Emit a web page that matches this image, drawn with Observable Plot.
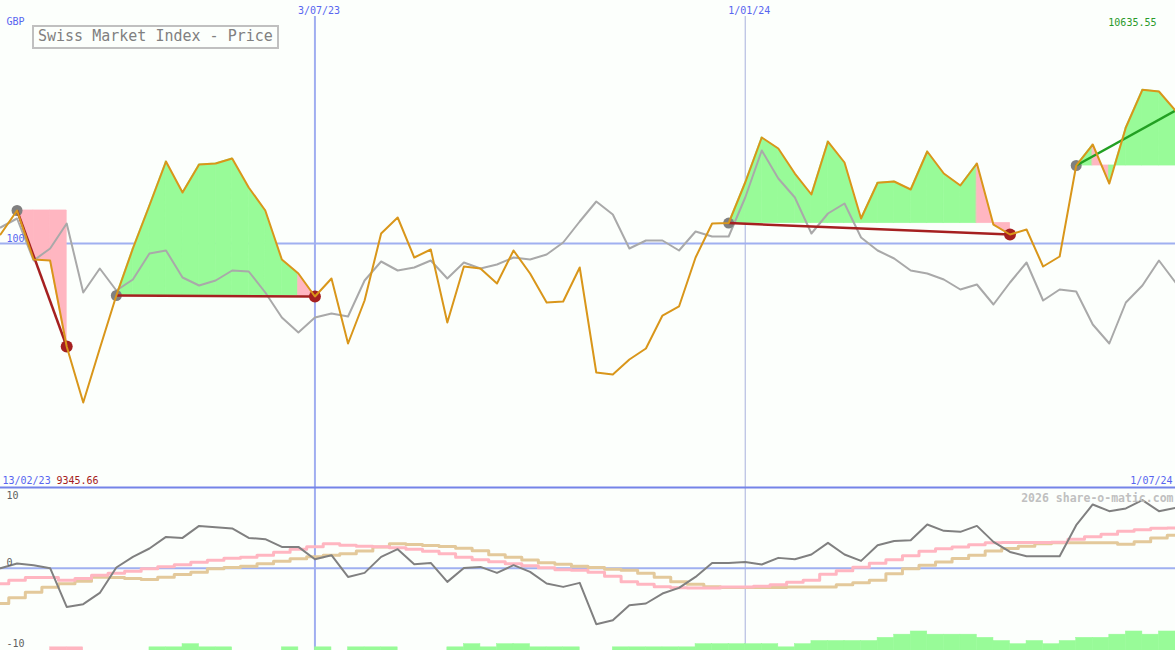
<!DOCTYPE html>
<html><head><meta charset="utf-8">
<script src="https://cdn.jsdelivr.net/npm/d3@7"></script>
<script src="https://cdn.jsdelivr.net/npm/@observablehq/plot@0.6"></script>
<style>
html,body{margin:0;padding:0;background:#fcfffc;}
#chart{position:relative;width:1175px;height:650px;background:#fcfffc;overflow:hidden;font-family:"DejaVu Sans Mono",monospace;}
.title{position:absolute;left:32px;top:25px;width:247px;height:24px;box-sizing:border-box;border:2px solid #c0c0c0;background:#fcfffc;color:#808080;font:15px "DejaVu Sans Mono",monospace;line-height:19px;padding-left:4px;white-space:nowrap;}
</style></head><body><div id="chart"></div>
<script>
// ---------- data ----------
const firstWeek = new Date(Date.UTC(2023, 1, 20));
const lastWeek = new Date(Date.UTC(2024, 6, 1));
const weeks = d3.utcMonday.range(firstWeek, d3.utcDay.offset(lastWeek, 1)); // 72 weekly closes

const price = [10038.7, 10137.7, 9935.5, 9931, 9576.7, 9345.66, 9568.4, 9787.0, 9980.9, 10158.3,
  10339.8, 10211.9, 10327.4, 10331.5, 10352.2, 10232.5, 10137.7, 9935.5, 9877.8, 9783.0,
  9857.2, 9589.0, 9766.4, 10042.8, 10108.8, 9943.8, 9976.8, 9675.7, 9906.7, 9898.4,
  9836.5, 9972.7, 9877.8, 9758.2, 9762.3, 9902.5, 9469.4, 9461.2, 9523.0, 9568.4,
  9704.5, 9741.7, 9943.8, 10084.0, 10086.0, 10253.2, 10438.8, 10393.4, 10290.3, 10203.7,
  10422.3, 10335.7, 10104.7, 10252.0, 10257.3, 10224.3, 10381.1, 10290.3, 10240.8, 10331.5,
  10079.0, 10038.7, 10059.3, 9906.7, 9948.0, 10323.3, 10409.9, 10249.0, 10480.0, 10635.55,
  10628.5, 10550.2];

const relStrength = [104.0, 106.25, 95.75, 98.75, 105.0, 87.75, 93.75, 88.25, 91.0, 97.5,
  98.25, 91.5, 89.5, 90.75, 93.25, 93.0, 87.75, 81.5, 77.75, 81.5,
  82.5, 81.75, 90.75, 95.5, 93.25, 94.0, 95.75, 91.25, 95.25, 93.75,
  94.75, 96.5, 96.0, 97.25, 100.25, 105.5, 110.5, 107.25, 98.75, 100.75,
  100.75, 98.25, 103.0, 101.75, 101.75, 111.5, 123.25, 116.25, 111.5, 102.5,
  107.5, 110.0, 101.5, 98.25, 96.25, 93.25, 92.5, 91.0, 88.5, 89.75,
  84.75, 90.25, 95.25, 85.75, 88.5, 88.0, 79.75, 75.0, 85.25, 89.5,
  95.75, 90.25];

const momentum = [0.0, 0.7, 0.45, 0.0, -5.78, -5.37, -3.69, 0.1, 1.69, 2.94,
  4.67, 4.52, 6.31, 6.12, 5.93, 4.52, 4.33, 3.18, 3.18, 1.34,
  1.94, -1.30, -0.70, 1.69, 2.84, 0.60, 0.79, -2.04, 0.04, 0.19,
  -0.70, 0.45, -0.55, -2.28, -2.79, -2.19, -8.36, -7.76, -5.52, -5.27,
  -3.78, -2.94, -1.30, 0.79, 0.79, 0.94, 0.55, 1.54, 1.34, 2.04,
  3.78, 2.04, 1.09, 3.43, 4.07, 4.18, 6.52, 5.57, 5.42, 6.31,
  3.93, 2.43, 1.79, 1.79, 1.79, 6.42, 9.51, 8.51, 8.91, 10.15,
  8.51, 9.0];

const signalFast = [-2.31, -1.79, -1.39, -1.39, -1.79, -1.54, -1.04, -0.75, -0.45, -0.07,
  0.22, 0.52, 0.90, 1.19, 1.49, 1.64, 1.94, 2.39, 2.84, 3.21,
  3.66, 3.43, 3.28, 3.21, 3.06, 2.84, 2.54, 2.16, 1.64, 1.27,
  0.97, 0.67, 0.37, 0.07, -0.22, -0.30, -0.60, -1.19, -2.01, -2.39,
  -2.76, -2.91, -2.94, -2.94, -2.79, -2.79, -2.69, -2.46, -2.09, -1.79,
  -0.90, -0.37, 0.15, 0.75, 1.27, 1.87, 2.54, 2.91, 3.18, 3.51,
  3.81, 3.84, 3.84, 3.84, 3.88, 4.33, 4.70, 5.07, 5.52, 5.75,
  5.97, 6.01];

const signalSlow = [-5.27, -4.40, -3.58, -2.84, -2.31, -1.94, -1.34, -1.39, -1.54, -1.69,
  -1.34, -0.94, -0.60, -0.07, 0.10, 0.30, 0.67, 1.04, 1.42, 1.69,
  1.94, 2.16, 2.58, 3.18, 3.66, 3.54, 3.39, 3.24, 2.99, 2.61,
  2.01, 1.64, 1.24, 0.82, 0.60, 0.30, 0.10, -0.15, -0.30, -0.75,
  -1.34, -2.01, -2.39, -2.76, -2.88, -2.88, -2.88, -2.88, -2.79, -2.79,
  -2.79, -2.46, -2.16, -1.79, -0.82, -0.07, 0.45, 0.94, 1.45, 1.94,
  2.58, 2.94, 3.28, 3.66, 3.78, 3.78, 3.78, 3.78, 3.58, 3.93,
  4.52, 4.93];

// weekly trend bars (interval i -> i+1); negative = down (pink)
const trendBars = [0, 0, 0, -1, -1, 0, 0, 0, 0, 1,
  1, 2, 1, 1, 0, 0, 0, 1, 0, 1,
  0, 1, 1, 1, 0, 0, 0, 1, 2, 1,
  2, 2, 1, 1, 1, 0, 0, 1, 1, 1,
  1, 1, 2, 2, 2, 2, 2, 1, 2, 3,
  3, 3, 3, 4, 5, 6, 5, 5, 5, 4,
  3, 2, 3, 2, 3, 4, 4, 5, 6, 5, 6];

const signalStart = [1, 7, 44, 65];
const signalEnd = [4, 19, 61, 71];
const signalOpen = [false, false, false, true];

const markerDates = [new Date(Date.UTC(2023, 6, 3)), new Date(Date.UTC(2024, 0, 1))];
const markerLabels = ["3/07/23", "1/01/24"];
const startLabel = "13/02/23", endLabel = "1/07/24";
const maxLabel = "10635.55", minLabel = "9345.66";
const currencyLabel = "GBP", baseLabel = "100";
const oscTicks = [10, 0, -10];
const titleText = "Swiss Market Index - Price";
const watermark = "2026 share-o-matic.com";

// ---------- derived tables ----------
const rows = weeks.map((date, i) => ({date, price: price[i], rel: relStrength[i], mom: momentum[i], fast: signalFast[i], slow: signalSlow[i]}));

const GREEN = "#98fb98", PINK = "#ffb6c1";
const fillRows = [];
signalStart.forEach((s, k) => {
  const e = signalEnd[k], base = price[s];
  for (let i = s; i < e; i++) {
    const color = price[i + 1] >= base ? GREEN : PINK;
    fillRows.push({key: k + "-" + i, date: weeks[i], base, price: price[i], color});
    fillRows.push({key: k + "-" + i, date: weeks[i + 1], base, price: price[i + 1], color});
  }
});
const trends = signalStart.map((s, k) => {
  const e = signalEnd[k];
  return {x1: weeks[s], y1: price[s], x2: weeks[e], y2: price[e], stroke: price[e] >= price[s] ? "#22a022" : "#a52020"};
});
const startDots = signalStart.map(s => ({date: weeks[s], price: price[s]}));
const endDots = signalEnd.filter((e, k) => !signalOpen[k]).map(e => ({date: weeks[e], price: price[e]}));
const barRows = trendBars.map((v, i) => ({x1: weeks[i], x2: weeks[i + 1], h: Math.abs(v), color: v < 0 ? PINK : GREEN})).filter(d => d.h > 0);

// ---------- layout ----------
const chart = document.getElementById("chart");
const BLUE = "#5865f0";
const font = {background: "transparent", fontFamily: '"DejaVu Sans Mono", monospace', fontSize: "10px"};
const priceY = {domain: [8995, 11004]};
const relY = {domain: [39, 160.75]};
const oscY = {domain: [-12.28, 12.04]};
const barY = {domain: [0, 51.42]};

function layer(marks, {height, top = 0, marginTop = 0, y}) {
  const svg = Plot.plot({
    width: 1175, height, marginTop, marginBottom: 0, marginLeft: 0, marginRight: 0,
    x: {type: "utc", domain: [weeks[0], weeks[weeks.length - 1]], axis: null},
    y: Object.assign({axis: null}, y || {}),
    color: {type: "identity"},
    style: font,
    marks
  });
  svg.style.position = "absolute";
  svg.style.left = "0px";
  svg.style.top = top + "px";
  chart.append(svg);
}

// L0: date marker rules across both panels
layer([
  Plot.ruleX([markerDates[0]], {stroke: "#a0aef0", strokeWidth: 2, insetTop: 16}),
  Plot.ruleX([markerDates[1]], {stroke: "#a8b0dc", strokeWidth: 1, insetTop: 16})
], {height: 650});

// L1: relative-strength base line
layer([
  Plot.ruleY([100], {stroke: "#a0b0f0", strokeWidth: 2})
], {height: 487, y: relY});

// L2: signal fills
layer([
  Plot.areaY(fillRows, {x: "date", y1: "base", y2: "price", z: "key", fill: "color", stroke: "color", strokeWidth: 0.8})
], {height: 487, y: priceY});

// L3: relative strength line and base label
layer([
  Plot.line(rows, {x: "date", y: "rel", stroke: "#a9a9a9", strokeWidth: 2}),
  Plot.text([100], {y: d => d, frameAnchor: "left", dx: 6, dy: -2, lineAnchor: "bottom", textAnchor: "start", text: () => baseLabel, fill: BLUE})
], {height: 487, y: relY});

// L4: trend lines, dots, price, labels
layer([
  Plot.dot(startDots, {x: "date", y: "price", r: 5.5, fill: "#808080"}),
  Plot.dot(endDots, {x: "date", y: "price", r: 6, fill: "#a52020"}),
  Plot.link(trends, {x1: "x1", y1: "y1", x2: "x2", y2: "y2", stroke: "stroke", strokeWidth: 2.5}),
  Plot.line(rows, {x: "date", y: "price", stroke: "#d9961a", strokeWidth: 2}),
  Plot.text(markerDates, {x: d => d, text: (d, i) => markerLabels[i], frameAnchor: "top", dx: -17, dy: 13.3, textAnchor: "start", lineAnchor: "bottom", fill: BLUE}),
  Plot.text([currencyLabel], {text: d => d, frameAnchor: "top-left", dx: 6, dy: 24, textAnchor: "start", lineAnchor: "bottom", fill: BLUE}),
  Plot.text([maxLabel], {text: d => d, frameAnchor: "top-right", dx: -19, dy: 25, textAnchor: "end", lineAnchor: "bottom", fill: "#2a9a2a"}),
  Plot.text([startLabel], {text: d => d, frameAnchor: "bottom-left", dx: 2, dy: -3.7, textAnchor: "start", lineAnchor: "bottom", fill: BLUE}),
  Plot.text([minLabel], {text: d => d, frameAnchor: "bottom-left", dx: 56, dy: -3.7, textAnchor: "start", lineAnchor: "bottom", fill: "#a52020"}),
  Plot.text([endLabel], {text: d => d, frameAnchor: "bottom-right", dx: -3, dy: -3.7, textAnchor: "end", lineAnchor: "bottom", fill: BLUE})
], {height: 487, y: priceY});

// L5: trend bars in lower panel
layer([
  Plot.rectY(barRows, {x1: "x1", x2: "x2", y: "h", fill: "color", stroke: "color", strokeWidth: 0.5})
], {height: 165, top: 485, marginTop: 2, y: barY});

// L6: oscillator panel
layer([
  Plot.ruleY([oscY.domain[1]], {stroke: "#7484e8", strokeWidth: 2}),
  Plot.ruleY([0], {stroke: "#a0b0f0", strokeWidth: 2}),
  Plot.line(rows, {x: "date", y: "slow", stroke: "#e3c99b", strokeWidth: 3, curve: "step"}),
  Plot.line(rows, {x: "date", y: "fast", stroke: "#ffb6c1", strokeWidth: 3, curve: "step"}),
  Plot.line(rows, {x: "date", y: "mom", stroke: "#808080", strokeWidth: 2}),
  Plot.text(oscTicks.slice(0, 2), {y: d => d, text: d => String(d), frameAnchor: "left", dx: 6, dy: -2, textAnchor: "start", lineAnchor: "bottom", fill: "#606060"}),
  Plot.text(oscTicks.slice(2), {text: d => String(d), frameAnchor: "bottom-left", dx: 6, dy: -4, textAnchor: "start", lineAnchor: "bottom", fill: "#606060"}),
  Plot.text([watermark], {text: d => d, frameAnchor: "top-right", dx: -2, dy: 14, textAnchor: "end", lineAnchor: "bottom", fill: "#c0c0c0", fontWeight: "bold", fontSize: 11.5})
], {height: 165, top: 485, marginTop: 2, y: oscY});

// title box
const title = document.createElement("div");
title.className = "title";
title.textContent = titleText;
chart.append(title);
</script></body></html>
